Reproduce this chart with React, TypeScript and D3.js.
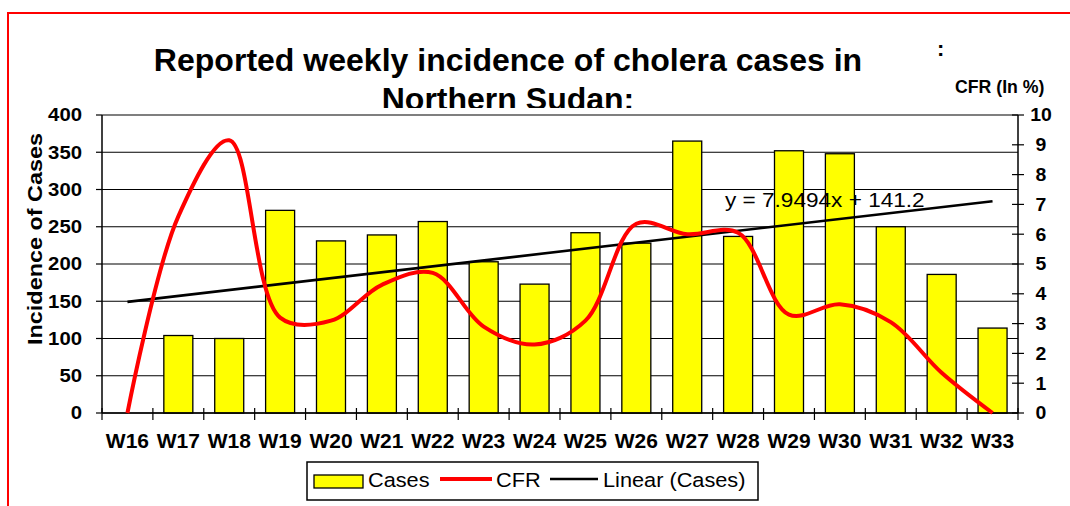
import React from 'react';
import * as d3 from 'd3';

// weekly data
const weeks = ['W16', 'W17', 'W18', 'W19', 'W20', 'W21', 'W22', 'W23', 'W24', 'W25', 'W26', 'W27', 'W28', 'W29', 'W30', 'W31', 'W32', 'W33'];
const cases = [0, 104, 100, 272, 231, 239, 257, 203, 173, 242, 228, 365, 237, 352, 348, 250, 186, 114];
const cfr = [0, 6.6, 9.15, 3.2, 3.1, 4.3, 4.7, 2.9, 2.3, 3.1, 6.35, 6.0, 6.05, 3.3, 3.65, 3.05, 1.35, 0];
const caseTicks = [0, 50, 100, 150, 200, 250, 300, 350, 400];
const cfrTicks = [0, 1, 2, 3, 4, 5, 6, 7, 8, 9, 10];
const trendSlope = 7.9494;
const trendIntercept = 141.2;
const trendLabel = 'y = 7.9494x + 141.2';

const FONT = '"Liberation Sans", Arial, sans-serif';

// text stretched along its own direction (the source font runs wider than Arial)
const T: React.FC<any> = ({ x, y, sx = 1, rotate = 0, children, ...rest }) => (
  <text
    transform={`translate(${x},${y})${rotate ? ` rotate(${rotate})` : ''} scale(${sx},1)`}
    fontFamily={FONT}
    {...rest}
  >
    {children}
  </text>
);

const App: React.FC = () => {
  const W = 1070;
  const H = 506;
  const left = 102;
  const right = 1018;
  const top = 115;
  const bottom = 413;

  const x = d3.scaleBand<string>().domain(weeks).range([left, right]).paddingInner(0.43).paddingOuter(0.215);
  const yCases = d3.scaleLinear().domain([0, 400]).range([bottom, top]);
  const yCfr = d3.scaleLinear().domain([0, 10]).range([bottom, top]);
  const step = x.step();
  const cx = (w: string) => (x(w) as number) + x.bandwidth() / 2;

  const cfrLine = d3
    .line<number>()
    .x((_, i) => cx(weeks[i]))
    .y((d) => yCfr(d))
    .curve(d3.curveCatmullRom.alpha(0.5));

  const trend = (i: number) => trendSlope * (i + 1) + trendIntercept;
  const first = 0;
  const last = weeks.length - 1;

  // band boundaries for the x ticks
  const xTicks = d3.range(weeks.length + 1).map((i) => left + i * step);

  return (
    <div style={{ position: 'absolute', left: 0, top: 0 }}>
      <svg width={W} height={H} style={{ display: 'block', background: '#fff' }}>
        <rect x={8} y={13} width={W + 10} height={H + 10} fill="#fff" stroke="#ff0000" strokeWidth={2} />

        {/* title */}
        <T x={508} y={71} sx={1.05} fontSize={30.5} fontWeight="bold" textAnchor="middle">
          Reported weekly incidence of cholera cases in
        </T>
        <T x={508} y={110} sx={1.05} fontSize={30.5} fontWeight="bold" textAnchor="middle">
          Northern Sudan:
        </T>
        <T x={937} y={56} fontSize={22} fontWeight="bold">:</T>
        <T x={955} y={93} fontSize={17.7} fontWeight="bold">CFR (In %)</T>

        {/* plot background */}
        <rect x={left} y={108} width={right - left} height={bottom - 108} fill="#fff" />

        {/* gridlines */}
        {caseTicks.map((t) => (
          <line key={'g' + t} x1={left} x2={right} y1={yCases(t)} y2={yCases(t)} stroke="#000" strokeWidth={1.2} />
        ))}

        {/* bars */}
        {cases.map((v, i) =>
          v > 0 ? (
            <rect
              key={'b' + i}
              x={x(weeks[i])}
              y={yCases(v)}
              width={x.bandwidth()}
              height={bottom - yCases(v)}
              fill="#ffff00"
              stroke="#000"
              strokeWidth={1.3}
            />
          ) : null
        )}

        {/* axes */}
        <line x1={left} x2={left} y1={top} y2={bottom} stroke="#000" strokeWidth={1.5} />
        <line x1={right} x2={right} y1={top} y2={bottom} stroke="#000" strokeWidth={1.5} />
        <line x1={left} x2={right} y1={bottom} y2={bottom} stroke="#000" strokeWidth={1.5} />
        {caseTicks.map((t) => (
          <g key={'lt' + t}>
            <line x1={left - 6} x2={left} y1={yCases(t)} y2={yCases(t)} stroke="#000" strokeWidth={1.2} />
            <T x={82} y={yCases(t) + 6.3} sx={1.13} fontSize={18} fontWeight="bold" textAnchor="end">
              {t}
            </T>
          </g>
        ))}
        {cfrTicks.map((t) => (
          <g key={'rt' + t}>
            <line x1={right - 6} x2={right + 6} y1={yCfr(t)} y2={yCfr(t)} stroke="#000" strokeWidth={1.2} />
            <T x={1041} y={yCfr(t) + 6.3} sx={1.08} fontSize={18} fontWeight="bold" textAnchor="middle">
              {t}
            </T>
          </g>
        ))}
        {xTicks.map((p, i) => (
          <line key={'xt' + i} x1={p} x2={p} y1={bottom - 5} y2={bottom + 7} stroke="#000" strokeWidth={1.2} />
        ))}
        {weeks.map((w) => (
          <T key={'xl' + w} x={cx(w)} y={448} sx={1.05} fontSize={20} fontWeight="bold" textAnchor="middle">
            {w}
          </T>
        ))}
        <T x={42} y={239} rotate={-90} sx={1.17} fontSize={20} fontWeight="bold" textAnchor="middle">
          Incidence of Cases
        </T>

        {/* linear trend of cases */}
        <line
          x1={cx(weeks[first])}
          x2={cx(weeks[last])}
          y1={yCases(trend(first))}
          y2={yCases(trend(last))}
          stroke="#000"
          strokeWidth={2.6}
        />

        {/* CFR */}
        <path d={cfrLine(cfr) || ''} fill="none" stroke="#ff0000" strokeWidth={4} strokeLinejoin="round" />

        <T x={725} y={207} sx={1.13} fontSize={20}>{trendLabel}</T>

        {/* legend */}
        <rect x={307} y={462} width={451} height={38} fill="#fff" stroke="#000" strokeWidth={1.5} />
        <rect x={314} y={475} width={49} height={13} fill="#ffff00" stroke="#000" strokeWidth={1.3} />
        <T x={368} y={487} sx={1.06} fontSize={20.5}>Cases</T>
        <line x1={440} x2={492} y1={479} y2={479} stroke="#ff0000" strokeWidth={4} />
        <T x={496} y={487} sx={1.06} fontSize={20.5}>CFR</T>
        <line x1={550} x2={598} y1={479} y2={479} stroke="#000" strokeWidth={2.6} />
        <T x={603} y={487} sx={1.06} fontSize={20.5}>Linear (Cases)</T>
      </svg>
    </div>
  );
};

export default App;
